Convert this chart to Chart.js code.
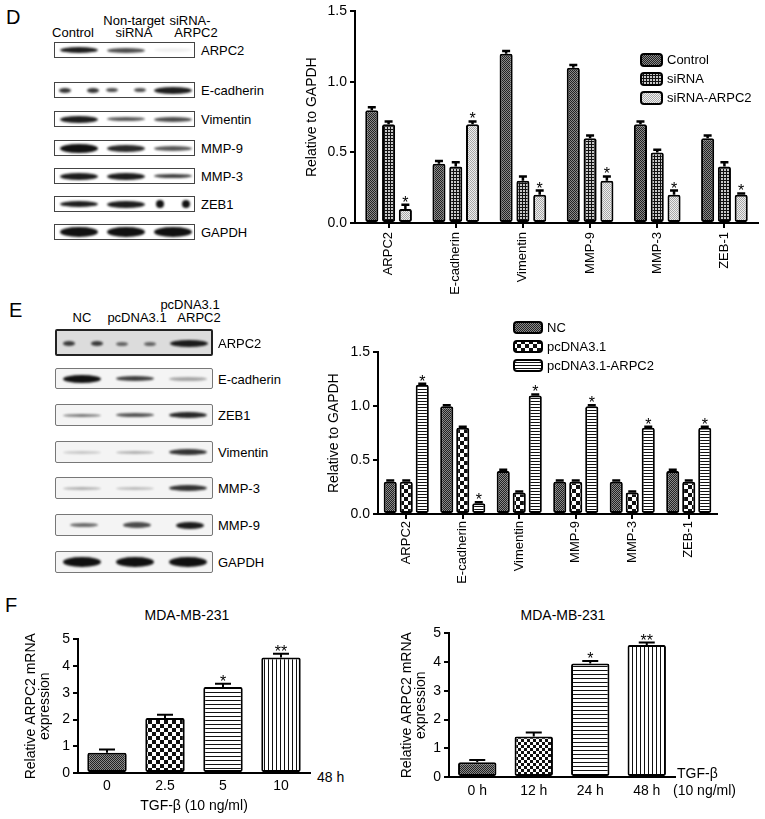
<!DOCTYPE html>
<html lang="en">
<head>
<meta charset="UTF-8">
<title>ARPC2 and EMT markers</title>
<script src="https://cdn.jsdelivr.net/npm/chart.js"></script>
<style>
  body { margin: 0; background: #fff; font-family: Arial, "Liberation Sans", sans-serif; color: #000; }
  .fig { position: relative; width: 765px; height: 819px; overflow: hidden; }
  .txt { position: absolute; white-space: nowrap; line-height: 1; }
  .ctr { transform: translate(-50%, -50%); }
  .mid { transform: translateY(-50%); }
  .plabel { font-size: 20px; }
  .hdr, .bname { font-size: 13px; }
  .blot { position: absolute; box-sizing: border-box; border: 1px solid #444; background: #fff; }
  .blot.e { border: 1.5px solid #777; border-radius: 2px; background: #f4f4f4; }
  .blot.e.dark { border: 2px solid #222; background: #dcdcdc; }
  .band { position: absolute; background: #111; border-radius: 50%; filter: blur(0.8px); }
  canvas { position: absolute; }
  .leg { position: absolute; font-size: 13px; }
  .leg div { display: flex; align-items: center; height: 19px; }
  .leg canvas { position: static; margin-right: 4px; }
</style>
</head>
<body>
<div class="fig" id="fig">
  <!-- D -->
  <div class="txt plabel" style="left:6px;top:7px">D</div>
  <div class="txt hdr ctr" style="left:73px;top:32px">Control</div>
  <div class="txt hdr ctr" style="left:134px;top:20px">Non-target</div>
  <div class="txt hdr ctr" style="left:134px;top:32px">siRNA</div>
  <div class="txt hdr ctr" style="left:190px;top:20px">siRNA-</div>
  <div class="txt hdr ctr" style="left:196px;top:32px">ARPC2</div>
  <canvas id="chartD" width="465" height="300" style="left:300px;top:0"></canvas>
  <div class="leg" id="legD" style="left:640px;top:50px"></div>

  <!-- E -->
  <div class="txt plabel" style="left:9px;top:300px">E</div>
  <div class="txt hdr ctr" style="left:82px;top:317px">NC</div>
  <div class="txt hdr ctr" style="left:137px;top:317px">pcDNA3.1</div>
  <div class="txt hdr ctr" style="left:190px;top:304px">pcDNA3.1</div>
  <div class="txt hdr ctr" style="left:199px;top:317px">ARPC2</div>
  <canvas id="chartE" width="404" height="249" style="left:320px;top:341px"></canvas>
  <div class="leg" id="legE" style="left:513px;top:318px"></div>

  <!-- F -->
  <div class="txt plabel" style="left:5px;top:595px">F</div>
  <div class="txt ctr" style="left:187px;top:615px;font-size:14px">MDA-MB-231</div>
  <div class="txt ctr" style="left:563px;top:615px;font-size:14px">MDA-MB-231</div>
  <canvas id="chartF1" width="315" height="191" style="left:0;top:628px"></canvas>
  <canvas id="chartF2" width="300" height="197" style="left:380px;top:622px"></canvas>
  <div class="txt mid" style="left:317px;top:777px;font-size:14px">48 h</div>
  <div class="txt mid" style="left:677px;top:773px;font-size:14px">TGF-&beta;</div>
  <div class="txt mid" style="left:673px;top:790px;font-size:14px">(10 ng/ml)</div>
</div>

<script>
// ---- data ----
const markers = ['ARPC2', 'E-cadherin', 'Vimentin', 'MMP-9', 'MMP-3', 'ZEB-1'];
const relTicks = [0, 0.5, 1.0, 1.5];

// D: siRNA knockdown
const dControl = [0.80, 0.42, 1.20, 1.10, 0.70, 0.60];
const dControlErr = [0.02, 0.02, 0.02, 0.02, 0.02, 0.02];
const dSirna = [0.70, 0.40, 0.30, 0.60, 0.50, 0.40];
const dSirnaErr = [0.02, 0.03, 0.03, 0.02, 0.02, 0.03];
const dKnock = [0.10, 0.70, 0.20, 0.30, 0.20, 0.20];
const dKnockErr = [0.03, 0.02, 0.03, 0.03, 0.03, 0.01];
const dStars = ['*', '*', '*', '*', '*', '*'];

// E: overexpression
const eNC = [0.30, 1.00, 0.40, 0.30, 0.30, 0.40];
const eNCErr = [0.01, 0.01, 0.01, 0.01, 0.01, 0.01];
const ePc = [0.30, 0.80, 0.20, 0.30, 0.20, 0.30];
const ePcErr = [0.01, 0.01, 0.01, 0.01, 0.01, 0.01];
const eOver = [1.20, 0.10, 1.10, 1.00, 0.80, 0.80];
const eOverErr = [0.01, 0.01, 0.01, 0.01, 0.01, 0.01];
const eStars = ['*', '*', '*', '*', '*', '*'];

// F: TGF-beta dose and time
const doseLabels = ['0', '2.5', '5', '10'];
const doseVals = [0.76, 2.06, 3.22, 4.32];
const doseErr = [0.12, 0.12, 0.12, 0.14];
const doseStars = ['', '', '*', '**'];
const timeLabels = ['0 h', '12 h', '24 h', '48 h'];
const timeVals = [0.51, 1.41, 3.95, 4.60];
const timeErr = [0.08, 0.14, 0.09, 0.08];
const timeStars = ['', '', '*', '**'];
const mrnaTicks = [0, 1, 2, 3, 4, 5];

// western blot band strengths: [alpha, thickness, split]
const dBlotNames = ['ARPC2', 'E-cadherin', 'Vimentin', 'MMP-9', 'MMP-3', 'ZEB1', 'GAPDH'];
const dBlotBands = [
  [[0.95, 6], [0.75, 5], [0.06, 4]],
  [[0.85, 5, 1], [0.75, 4, 1], [0.95, 7]],
  [[0.95, 7], [0.7, 4], [0.75, 5]],
  [[1, 9], [0.9, 7], [0.7, 5]],
  [[0.95, 7], [0.95, 7], [0.8, 4]],
  [[0.95, 6], [0.95, 7], [1, 8, 2]],
  [[1, 10], [1, 10], [1, 10]]
];
const eBlotNames = ['ARPC2', 'E-cadherin', 'ZEB1', 'Vimentin', 'MMP-3', 'MMP-9', 'GAPDH'];
const eBlotBands = [
  [[0.8, 5, 1], [0.6, 4, 1], [0.95, 7]],
  [[1, 8], [0.8, 5], [0.35, 4]],
  [[0.55, 3], [0.7, 4], [0.9, 6]],
  [[0.2, 3], [0.3, 3], [0.85, 6]],
  [[0.3, 3], [0.25, 3], [0.85, 6]],
  [[0.6, 4, 3], [0.75, 6, 3], [0.95, 7, 3]],
  [[1, 10], [1, 10], [1, 10]]
];

// ---- blots ----
const fig = document.getElementById('fig');
function blot(cls, x, y, w, h, bands, name, nameX) {
  const box = document.createElement('div');
  box.className = 'blot' + cls;
  box.style.cssText = `left:${x}px;top:${y}px;width:${w}px;height:${h}px`;
  const lane = w / 3;
  bands.forEach(([a, t, split], i) => {
    const cx = lane * i + lane / 2, cy = h / 2 - 1;
    const parts = split === 1 ? [[-14, 12], [14, 12]]
               : split === 2 ? [[-13, 8], [13, 8]]
               : split === 3 ? [[2, 28]] : [[0, 38]];
    parts.forEach(([dx, bw]) => {
      const b = document.createElement('div');
      b.className = 'band';
      b.style.cssText = `left:${cx + dx - bw / 2}px;top:${cy - t / 2}px;width:${bw}px;height:${t}px;opacity:${a}`;
      box.appendChild(b);
    });
  });
  fig.appendChild(box);
  const lab = document.createElement('div');
  lab.className = 'txt bname mid';
  lab.style.cssText = `left:${nameX}px;top:${y + h / 2}px`;
  lab.textContent = name;
  fig.appendChild(lab);
}
const dRowTop = [42, 82, 111, 140, 168, 196, 224];
dBlotNames.forEach((n, i) => blot('', 54, dRowTop[i], 141, 16, dBlotBands[i], n, 201));
const eRowTop = [329, 368, 404, 441, 477, 514, 551];
const eRowH = [27, 21, 22, 22, 22, 22, 22];
eBlotNames.forEach((n, i) => blot(i === 0 ? ' e dark' : ' e', 55, eRowTop[i], 158, eRowH[i], eBlotBands[i], n, 218));

// ---- fill patterns ----
function tile(w, h, draw) {
  const c = document.createElement('canvas');
  c.width = w; c.height = h;
  draw(c.getContext('2d'));
  return c;
}
function checker(n, a, b) {
  return tile(2 * n, 2 * n, g => {
    g.fillStyle = a; g.fillRect(0, 0, 2 * n, 2 * n);
    g.fillStyle = b; g.fillRect(0, 0, n, n); g.fillRect(n, n, n, n);
  });
}
function stripes(n, vertical) {
  return tile(vertical ? n : 1, vertical ? 1 : n, g => {
    g.fillStyle = '#fff'; g.fillRect(0, 0, n, n);
    g.fillStyle = '#111'; g.fillRect(0, 0, 1, 1);
  });
}
const tiles = {
  darkDots: checker(1, '#8a8a8a', '#222'),
  grid: tile(3, 3, g => { g.fillStyle = '#c8c8c8'; g.fillRect(0, 0, 3, 3); g.fillStyle = '#111'; g.fillRect(0, 0, 3, 1); g.fillRect(0, 0, 1, 3); }),
  lightDots: checker(1, '#eeeeee', '#a8a8a8'),
  bigCheck: checker(4, '#fff', '#111'),
  check4: checker(4, '#fff', '#111'),
  check3: checker(3, '#fff', '#111'),
  hLines3: stripes(3, false),
  hLines4: stripes(4, false),
  vLines4: stripes(4, true)
};
const patCtx = document.createElement('canvas').getContext('2d');
const pat = k => patCtx.createPattern(tiles[k], 'repeat');

// ---- error bars + asterisks ----
const errorBars = {
  id: 'errorBars',
  afterDatasetsDraw(chart, args, opts) {
    const { ctx } = chart;
    const y = chart.scales.y;
    chart.data.datasets.forEach((ds, di) => {
      chart.getDatasetMeta(di).data.forEach((bar, i) => {
        const v = ds.data[i], e = ds.errors[i];
        const top = y.getPixelForValue(v + e);
        ctx.save();
        ctx.strokeStyle = '#000';
        ctx.lineWidth = opts.width;
        ctx.beginPath();
        ctx.moveTo(bar.x, y.getPixelForValue(v));
        ctx.lineTo(bar.x, top);
        ctx.moveTo(bar.x - opts.cap, top);
        ctx.lineTo(bar.x + opts.cap, top);
        ctx.stroke();
        const s = ds.stars ? ds.stars[i] : '';
        if (s) {
          ctx.fillStyle = '#000';
          ctx.font = '16px Arial, "Liberation Sans", sans-serif';
          ctx.textAlign = 'center';
          ctx.textBaseline = 'alphabetic';
          ctx.fillText(s, bar.x, top + 3);
        }
        ctx.restore();
      });
    });
  }
};

Chart.defaults.font.family = 'Arial, "Liberation Sans", sans-serif';
Chart.defaults.color = '#000';

function axes(o) {
  return {
    x: {
      grid: o.xTicks ? { drawOnChartArea: false, offset: false, tickLength: 5, color: '#000', lineWidth: 2 }
                     : { display: false, drawTicks: false },
      border: { color: '#000', width: 2 },
      ticks: { font: { size: o.xFont }, minRotation: o.rot, maxRotation: o.rot, autoSkip: false, padding: o.xPad },
      title: o.xTitle ? { display: true, text: o.xTitle, font: { size: 14 }, padding: { top: 2, bottom: 4 } } : { display: false },
      afterFit: s => { s.height = o.xH; }
    },
    y: {
      min: o.ticks[0], max: o.ticks[o.ticks.length - 1],
      afterBuildTicks: s => { s.ticks = o.ticks.map(v => ({ value: v })); },
      grid: { drawOnChartArea: false, tickLength: 5, color: '#000', lineWidth: 2 },
      border: { color: '#000', width: 2 },
      ticks: { font: { size: 14 }, padding: 3, callback: v => o.fmt(v) },
      title: { display: true, text: o.yTitle, font: { size: 14, lineHeight: o.yLH || 1.2 }, padding: { top: o.yPad, bottom: 2 } },
      afterFit: s => { s.width = o.yW; }
    }
  };
}

function barSet(label, data, errors, fill, stars) {
  return { label, data, errors, stars, backgroundColor: fill, borderColor: '#000', borderWidth: 2, borderSkipped: false, borderRadius: 2 };
}

function makeChart(id, labels, datasets, o) {
  return new Chart(document.getElementById(id), {
    type: 'bar',
    data: { labels, datasets },
    options: {
      responsive: false, animation: false,
      layout: { padding: { top: 10, right: o.padR, left: 0, bottom: 0 } },
      datasets: { bar: { categoryPercentage: o.cat, barPercentage: o.bar } },
      plugins: { legend: { display: false }, tooltip: { enabled: false }, errorBars: { width: o.errW, cap: o.cap } },
      scales: axes(o)
    },
    plugins: [errorBars]
  });
}

makeChart('chartD', markers, [
  barSet('Control', dControl, dControlErr, pat('darkDots')),
  barSet('siRNA', dSirna, dSirnaErr, pat('grid')),
  barSet('siRNA-ARPC2', dKnock, dKnockErr, pat('lightDots'), dStars)
], { padR: 7, cat: 0.75, bar: 0.78, errW: 2.5, cap: 4, xTicks: true, xFont: 13, rot: 90, xPad: 4, xH: 77,
     ticks: relTicks, fmt: v => v.toFixed(1), yTitle: 'Relative to GAPDH', yPad: 4, yW: 55 });

makeChart('chartE', markers, [
  barSet('NC', eNC, eNCErr, pat('darkDots')),
  barSet('pcDNA3.1', ePc, ePcErr, pat('bigCheck')),
  barSet('pcDNA3.1-ARPC2', eOver, eOverErr, pat('hLines3'), eStars)
], { padR: 7, cat: 0.85, bar: 0.82, errW: 2.5, cap: 4, xTicks: true, xFont: 13, rot: 90, xPad: 2, xH: 76,
     ticks: relTicks, fmt: v => v.toFixed(1), yTitle: 'Relative to GAPDH', yPad: 6, yW: 58 });

makeChart('chartF1', doseLabels, [
  barSet('dose', doseVals, doseErr, ['darkDots', 'check4', 'hLines4', 'vLines4'].map(pat), doseStars)
], { padR: 5, cat: 0.68, bar: 1, errW: 2, cap: 8, xTicks: false, xFont: 14, rot: 0, xPad: 5, xH: 46, xTitle: 'TGF-\u03b2 (10 ng/ml)',
     ticks: mrnaTicks, fmt: v => String(v), yTitle: ['Relative ARPC2 mRNA', 'expression'], yLH: 1.0, yPad: 24, yW: 78 });

makeChart('chartF2', timeLabels, [
  barSet('time', timeVals, timeErr, ['darkDots', 'check3', 'hLines4', 'vLines4'].map(pat), timeStars)
], { padR: 5, cat: 0.68, bar: 1, errW: 2, cap: 8, xTicks: false, xFont: 14, rot: 0, xPad: 6, xH: 42,
     ticks: mrnaTicks, fmt: v => String(v), yTitle: ['Relative ARPC2 mRNA', 'expression'], yLH: 1.0, yPad: 20, yW: 69 });

// ---- legends ----
function legend(id, items) {
  const el = document.getElementById(id);
  items.forEach(([name, key, w, h]) => {
    const row = document.createElement('div');
    const c = document.createElement('canvas');
    c.width = w; c.height = h;
    const g = c.getContext('2d');
    g.fillStyle = g.createPattern(tiles[key], 'repeat');
    g.beginPath(); g.roundRect(1, 1, w - 2, h - 2, 3); g.fill();
    g.lineWidth = 2; g.strokeStyle = '#000'; g.stroke();
    row.appendChild(c);
    row.appendChild(document.createTextNode(name));
    el.appendChild(row);
  });
}
legend('legD', [['Control', 'darkDots', 23, 14], ['siRNA', 'grid', 23, 14], ['siRNA-ARPC2', 'lightDots', 23, 14]]);
legend('legE', [['NC', 'darkDots', 30, 13], ['pcDNA3.1', 'bigCheck', 30, 13], ['pcDNA3.1-ARPC2', 'hLines3', 30, 13]]);
</script>
</body>
</html>
